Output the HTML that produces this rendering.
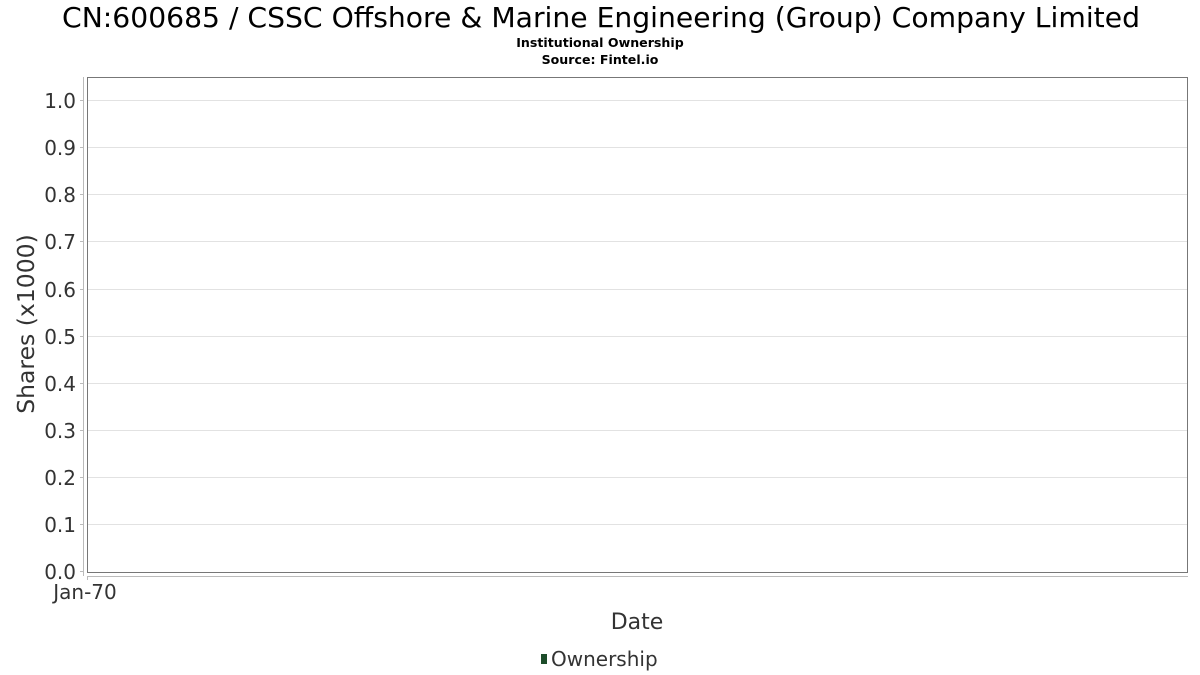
<!DOCTYPE html>
<html><head><meta charset="utf-8"><style>body{margin:0;background:#fff}svg{display:block}text{font-family:"DejaVu Sans","Liberation Sans",sans-serif}</style></head><body>
<svg width="1200" height="675" xmlns="http://www.w3.org/2000/svg">
<text x="601" y="27" text-anchor="middle" font-size="28" fill="#000" textLength="1078" lengthAdjust="spacingAndGlyphs">CN:600685 / CSSC Offshore &amp; Marine Engineering (Group) Company Limited</text>
<text x="600" y="47" text-anchor="middle" font-size="12.6" font-weight="bold" fill="#000">Institutional Ownership</text>
<text x="600" y="64" text-anchor="middle" font-size="12.6" font-weight="bold" fill="#000">Source: Fintel.io</text>
<g stroke="#e2e2e2" stroke-width="1">
<line x1="88" x2="1188" y1="100.5" y2="100.5"/><line x1="88" x2="1188" y1="147.5" y2="147.5"/><line x1="88" x2="1188" y1="194.5" y2="194.5"/><line x1="88" x2="1188" y1="241.5" y2="241.5"/><line x1="88" x2="1188" y1="289.5" y2="289.5"/><line x1="88" x2="1188" y1="336.5" y2="336.5"/><line x1="88" x2="1188" y1="383.5" y2="383.5"/><line x1="88" x2="1188" y1="430.5" y2="430.5"/><line x1="88" x2="1188" y1="477.5" y2="477.5"/><line x1="88" x2="1188" y1="524.5" y2="524.5"/>
</g>
<rect x="87.5" y="77.5" width="1100" height="495" fill="none" stroke="#777"/>
<g stroke="#bbb"><line x1="83.5" y1="77" x2="83.5" y2="576"/><line x1="87" y1="576.5" x2="1188" y2="576.5"/>
<g><line x1="80" x2="83" y1="100.5" y2="100.5"/><line x1="80" x2="83" y1="147.5" y2="147.5"/><line x1="80" x2="83" y1="194.5" y2="194.5"/><line x1="80" x2="83" y1="241.5" y2="241.5"/><line x1="80" x2="83" y1="289.5" y2="289.5"/><line x1="80" x2="83" y1="336.5" y2="336.5"/><line x1="80" x2="83" y1="383.5" y2="383.5"/><line x1="80" x2="83" y1="430.5" y2="430.5"/><line x1="80" x2="83" y1="477.5" y2="477.5"/><line x1="80" x2="83" y1="524.5" y2="524.5"/><line x1="80" x2="83" y1="571.5" y2="571.5"/><line x1="87.5" x2="87.5" y1="577" y2="580"/></g></g>
<g font-size="20" fill="#333" text-anchor="end">
<text x="76" y="108">1.0</text><text x="76" y="155">0.9</text><text x="76" y="202">0.8</text><text x="76" y="249">0.7</text><text x="76" y="297">0.6</text><text x="76" y="344">0.5</text><text x="76" y="391">0.4</text><text x="76" y="438">0.3</text><text x="76" y="485">0.2</text><text x="76" y="532">0.1</text><text x="76" y="579">0.0</text>
</g>
<text x="85" y="599" text-anchor="middle" font-size="20" fill="#333">Jan-70</text>
<text x="637" y="629" text-anchor="middle" font-size="22" fill="#333">Date</text>
<text transform="translate(34,324) rotate(-90)" text-anchor="middle" font-size="23.5" fill="#333">Shares (x1000)</text>
<rect x="541" y="654" width="6" height="10" fill="#1d4d2a"/>
<text x="551" y="666" font-size="20" fill="#333">Ownership</text>
</svg>
</body></html>
